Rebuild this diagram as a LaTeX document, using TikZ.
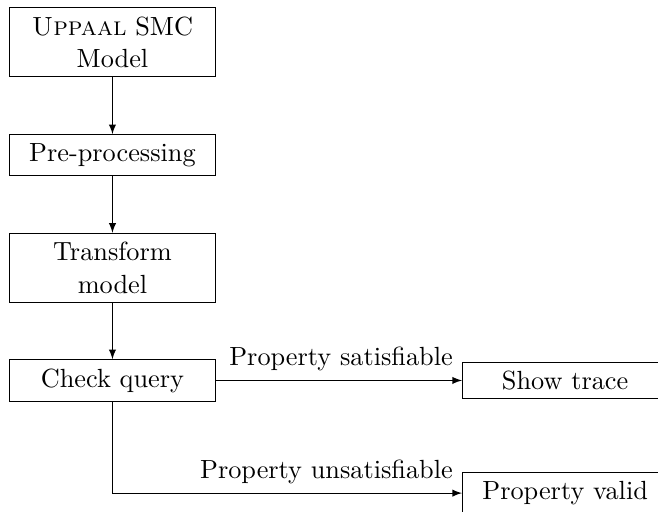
\documentclass[11pt,tikz,border=0pt]{standalone}
\usetikzlibrary{arrows,positioning}

\tikzset{block/.style={draw, rectangle, text width=2.75cm, align=center}}

\begin{document}
\begin{tikzpicture}[>=latex,node distance=1.65cm,on grid]
    \useasboundingbox (-1.647,0.622) rectangle (7.99,-6.874);
    \node[block] (model) {\textsc{Uppaal} SMC\\Model};
    \node[block] (pre) [below of=model] {Pre-processing};
    \node[block] (transform) [below of=pre] {Transform\\model};
    \node[block] (check) [below of=transform] {Check query};
    \node[block] (trace) [node distance=6.63cm, right of=check] {Show trace};
    \node[block] (valid) [below of=trace] {Property valid};
    \path[->]
        (model) edge (pre)
        (pre) edge (transform)
        (transform) edge (check)
        (check) edge node[pos=1,above left] {Property satisfiable} (trace);
    \draw[->] (check) |- node[pos=1,above left] {Property unsatisfiable} (valid);
\end{tikzpicture}
\end{document}
